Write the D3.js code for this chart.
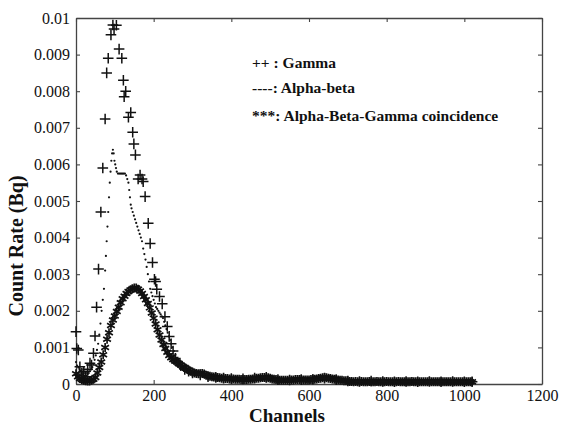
<!DOCTYPE html>
<html><head><meta charset="utf-8">
<script src="https://cdn.jsdelivr.net/npm/d3@7"></script>
<style>
body{margin:0;background:#fff;}
svg{display:block;}
</style></head>
<body><svg id="c" width="561" height="427"></svg>
<script>
// ---- data ----
const xTicks = [0,200,400,600,800,1000,1200];
const yTicks = [0,0.001,0.002,0.003,0.004,0.005,0.006,0.007,0.008,0.009,0.01];
const xLabel = "Channels";
const yLabel = "Count Rate (Bq)";
const legendLabels = ["++ : Gamma","----: Alpha-beta","***: Alpha-Beta-Gamma coincidence"];

// Gamma (+ markers)
const gammaCh = [0,2,6,10,15,20,25,30,36,40,45,49,53,58,64,69,75,79,83,90,95,98,104,111,118,122,124,128,135,141,146,149,153,160,165,170,173,178,186,191,197,202,205,208,215,222,229,235,240,245,250,256,262,270,280,290,300,320,340,360,380,400,430,460,490,520,550,580,610,640,670,700,730,760,790,820,850,880,910,940,970,1000,1020];
const gammaVal = [0.00143,0.00097,0.00093,0.00047,0.0003,0.00035,0.0002,0.0004,0.00057,0.00052,0.00084,0.00131,0.0021,0.00314,0.0047,0.0059,0.00724,0.0085,0.0089,0.00954,0.00981,0.0097,0.0098,0.00915,0.0089,0.0083,0.00785,0.0080,0.00729,0.00742,0.00688,0.00656,0.00626,0.0056,0.00571,0.0056,0.00553,0.00512,0.00439,0.00384,0.00332,0.00286,0.0028,0.00259,0.00239,0.00219,0.00184,0.00157,0.0013,0.0011,0.0009,0.0007,0.0006,0.0005,0.0004,0.00035,0.0003,0.00025,0.0002,0.00018,0.00016,0.00015,0.00014,0.00016,0.00018,0.00012,0.00011,0.00012,0.00013,0.00016,0.00012,0.00008,0.00007,0.00008,0.00007,0.00006,0.00007,0.00006,0.00007,0.00006,0.00007,0.00006,0.00006];

// Alpha-beta (dotted)
const abCh = [0,3,6,9,12,15,18,21,24,27,30,33,36,39,42,45,48,51,54,57,60,63,66,69,72,75,77,79,81,83,85,87,89,91,93,95,97,99,101,103,105,108,111,114,117,120,123,126,129,132,135,137,139,141,143,146,149,152,155,158,161,164,167,170,173,176,179,182,185,188,191,194,197,200,203,206,209,212,215,218,221,224,227,230,233,236,239,242,245,248,252,256,260,265,270,280,290,300,315,330,345,360,380,400,420,440,460,480,500,520,540,560,580,600,620,640,660,680,700,720,740,760,780,800,820,840,860,880,900,920,940,960,980,1000,1020];
const abVal = [0.0006,0.0005,0.00045,0.0004,0.00035,0.0003,0.00025,0.00022,0.0002,0.00022,0.00025,0.0003,0.00035,0.0004,0.00046,0.00055,0.00066,0.00078,0.00093,0.0011,0.00135,0.00165,0.002,0.0023,0.0026,0.0031,0.0035,0.0039,0.0043,0.0047,0.0051,0.0055,0.0058,0.0061,0.0063,0.0064,0.0063,0.0061,0.006,0.0059,0.0058,0.00575,0.00575,0.00575,0.00575,0.00575,0.00575,0.00575,0.0057,0.0056,0.0055,0.0053,0.0051,0.0049,0.0048,0.0047,0.0046,0.0045,0.0044,0.0043,0.0042,0.0041,0.004,0.0039,0.0037,0.00355,0.0034,0.0032,0.003,0.0028,0.0026,0.0025,0.0024,0.0023,0.0022,0.0021,0.00205,0.002,0.00195,0.0019,0.00185,0.0018,0.0017,0.0016,0.0015,0.0014,0.0013,0.0012,0.0011,0.001,0.0009,0.0008,0.0007,0.0006,0.0005,0.0004,0.00035,0.0003,0.00028,0.00025,0.00022,0.0002,0.00018,0.00016,0.00014,0.00013,0.00013,0.00015,0.00016,0.00012,0.0001,0.0001,0.00011,0.00011,0.00013,0.00015,0.00013,0.0001,0.00008,0.00007,0.00007,0.00006,0.00006,0.00006,0.00006,0.00005,0.00005,0.00006,0.00005,0.00005,0.00005,0.00005,0.00005,0.00005,0.00005];

// Alpha-Beta-Gamma coincidence (* markers), channels 0..1020 every 5
const coStart = 0, coStep = 5;
const coVal = [
0.00028,0.0002,0.00015,0.00012,0.0001,0.00009,0.00008,0.00008,0.0001,0.00013,
0.00018,0.0003,0.00045,0.0006,0.0008,0.001,0.00122,0.0014,0.0016,0.00175,
0.00186,0.00198,0.0021,0.00222,0.00233,0.0024,0.00247,0.00253,0.00257,0.0026,
0.00262,0.00262,0.00259,0.00254,0.00247,0.00239,0.0023,0.0022,0.00208,0.00194,
0.0018,0.00164,0.00148,0.00134,0.0012,0.00108,0.00097,0.00087,0.00078,0.00072,
0.00067,0.00063,0.0006,0.00056,0.00052,0.00048,0.00045,0.00041,0.00038,0.00035,
0.00032,0.0003,0.00029,0.00028,0.00028,0.00029,0.00027,0.00024,0.00022,0.00021,
0.0002,0.00019,0.00018,0.00018,0.00017,0.00016,0.00016,0.00015,0.00015,0.00014,
0.00014,0.00014,0.00013,0.00013,0.00013,0.00012,0.00012,0.00012,0.00012,0.00013,
0.00013,0.00014,0.00015,0.00016,0.00016,0.00017,0.00018,0.00018,0.00017,0.00017,
0.00016,0.00014,0.00013,0.00012,0.00011,0.0001,0.0001,0.0001,0.0001,0.0001,
0.0001,0.00011,0.00011,0.00012,0.00012,0.00012,0.00012,0.00011,0.00011,0.00011,
0.00011,0.00012,0.00012,0.00013,0.00014,0.00015,0.00016,0.00017,0.00017,0.00017,
0.00016,0.00015,0.00014,0.00013,0.00012,0.00011,0.0001,0.0001,0.00009,0.00009,
0.00008,0.00007,0.00007,0.00006,0.00007,0.00006,0.00006,0.00007,0.00006,0.00006,
0.00006,0.00007,0.00006,0.00006,0.00006,0.00007,0.00006,0.00006,0.00006,0.00006,
0.00007,0.00006,0.00006,0.00006,0.00006,0.00006,0.00007,0.00006,0.00006,0.00006,
0.00006,0.00006,0.00006,0.00007,0.00006,0.00006,0.00006,0.00006,0.00006,0.00006,
0.00006,0.00006,0.00007,0.00006,0.00006,0.00006,0.00006,0.00006,0.00006,0.00006,
0.00006,0.00006,0.00006,0.00006,0.00006,0.00006,0.00006,0.00006,0.00006,0.00006,
0.00006,0.00006,0.00006,0.00006,0.00006];

// ---- drawing ----
const FONT = '"Liberation Serif"';
const svg = d3.select("#c");
const x = d3.scaleLinear().domain([0,1200]).range([76,542]);
const y = d3.scaleLinear().domain([0,0.01]).range([384,18]);
const fmtY = d => d===0 ? "0" : String(+d.toFixed(3));

const axisStyle = g => {
  g.attr("font-family", null);
  g.select(".domain").attr("stroke","#444").attr("stroke-width",1.3);
  g.selectAll(".tick line").attr("stroke","#444").attr("stroke-width",1.1);
  g.selectAll(".tick text").style("font-family",FONT).style("font-size","16px").attr("fill","#111");
};

svg.append("g").attr("transform",`translate(0,${y(0)})`)
  .call(d3.axisBottom(x).tickValues(xTicks).tickSize(-4).tickSizeOuter(0).tickPadding(6).tickFormat(d3.format("d"))).call(axisStyle);
svg.append("g").attr("transform",`translate(0,${y(0.01)})`)
  .call(d3.axisTop(x).tickValues(xTicks).tickSize(-4).tickSizeOuter(0).tickFormat("")).call(axisStyle);
svg.append("g").attr("transform",`translate(${x(0)},0)`)
  .call(d3.axisLeft(y).tickValues(yTicks).tickSize(-4).tickSizeOuter(0).tickPadding(6).tickFormat(fmtY)).call(axisStyle);
svg.append("g").attr("transform",`translate(${x(1200)},0)`)
  .call(d3.axisRight(y).tickValues(yTicks).tickSize(-4).tickSizeOuter(0).tickFormat("")).call(axisStyle);

const plot = svg.append("g");

// coincidence asterisks
const ast = r => {
  const a = r*0.866, b = r*0.5;
  return `M0,${-r}V${r}M${-a},${-b}L${a},${b}M${-a},${b}L${a},${-b}`;
};
plot.append("g").selectAll("path").data(coVal.map((v,i)=>[coStart+i*coStep,v])).join("path")
  .attr("transform",d=>`translate(${x(d[0])},${y(d[1])})`)
  .attr("d",ast(4.5)).attr("stroke","#111").attr("stroke-width",1.7).attr("fill","none");

// alpha-beta dots
plot.append("g").selectAll("circle").data(abCh.map((c,i)=>[c,abVal[i]])).join("circle")
  .attr("cx",d=>x(d[0])).attr("cy",d=>y(d[1])).attr("r",1.1).attr("fill","#111");

// gamma plus
const plus = r => `M${-r},0H${r}M0,${-r}V${r}`;
plot.append("g").selectAll("path").data(gammaCh.map((c,i)=>[c,gammaVal[i]])).join("path")
  .attr("transform",d=>`translate(${x(d[0])},${y(d[1])})`)
  .attr("d",plus(5.3)).attr("stroke","#111").attr("stroke-width",1.5).attr("fill","none");

// axis titles
svg.append("text").attr("x",287).attr("y",422).attr("text-anchor","middle")
  .style("font-family",FONT).style("font-size","19px").style("font-weight","bold").attr("fill","#111").text(xLabel);
svg.append("text").attr("transform","translate(23,246) rotate(-90)").attr("text-anchor","middle")
  .style("font-family",FONT).style("font-size","20px").style("font-weight","bold").attr("fill","#111").text(yLabel);

// legend
const legY = [68,93,121];
svg.append("g").selectAll("text").data(legendLabels).join("text")
  .attr("x",252).attr("y",(d,i)=>legY[i])
  .style("font-family",FONT).style("font-size","15.5px").style("font-weight","bold").attr("fill","#111").text(d=>d);
</script></body></html>
